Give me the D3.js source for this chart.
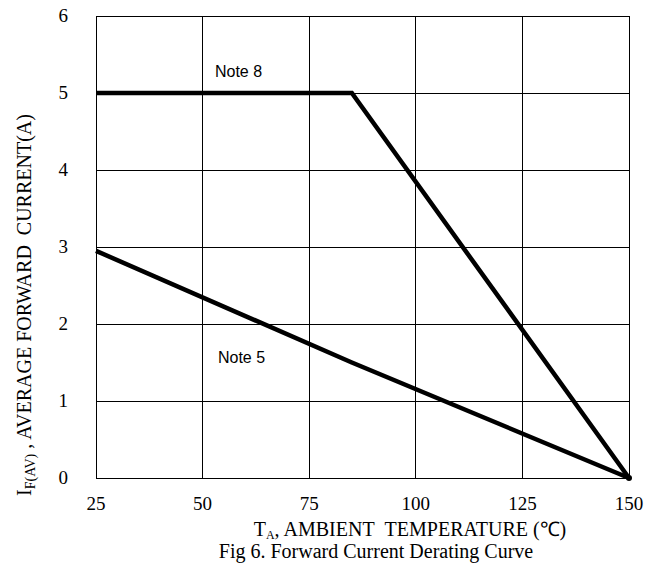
<!DOCTYPE html>
<html>
<head>
<meta charset="utf-8">
<script src="https://cdn.jsdelivr.net/npm/d3@7"></script>
<style>
  html, body { margin: 0; padding: 0; background: #fff; }
  svg { display: block; }
  .tick-label { font-family: "Liberation Serif", "Times New Roman", serif; font-size: 19px; fill: #000; }
  .axis-title { font-family: "Liberation Serif", "Times New Roman", serif; font-size: 20px; fill: #000; }
  .note { font-family: "Liberation Sans", Arial, sans-serif; font-size: 16px; fill: #000; }
</style>
</head>
<body>
<div id="chart"></div>
<script>
// data
const xTicks = [25, 50, 75, 100, 125, 150];
const yTicks = [0, 1, 2, 3, 4, 5, 6];
const note8Temp = [25, 85, 150];
const note8Current = [5, 5, 0];
const note5Temp = [25, 85, 150];
const note5Current = [2.95, 1.5, 0];
const notes = [
  {label: 'Note 8', temp: 52.9, current: 5.21},
  {label: 'Note 5', temp: 53.6, current: 1.49}
];

const width = 662;
const height = 564;

// scales
const x = d3.scaleLinear().domain([25, 150]).range([96, 629]);
const y = d3.scaleLinear().domain([0, 6]).range([478, 16]);

const svg = d3.select('#chart')
    .append('svg')
    .attr('width', width)
    .attr('height', height)
    .attr('viewBox', [0, 0, width, height]);

// grid
const grid = svg.append('g')
    .attr('stroke', '#000')
    .attr('stroke-width', 1)
    .attr('shape-rendering', 'crispEdges');

grid.selectAll('line.v')
    .data(xTicks)
    .enter()
    .append('line')
    .attr('class', 'v')
    .attr('x1', d => x(d)).attr('x2', d => x(d))
    .attr('y1', y(0)).attr('y2', y(6));

grid.selectAll('line.h')
    .data(yTicks)
    .enter()
    .append('line')
    .attr('class', 'h')
    .attr('x1', x(25)).attr('x2', x(150))
    .attr('y1', d => y(d)).attr('y2', d => y(d));

// tick labels
svg.append('g').selectAll('text')
    .data(xTicks)
    .enter()
    .append('text')
    .attr('class', 'tick-label')
    .attr('x', d => x(d))
    .attr('y', 510)
    .attr('text-anchor', 'middle')
    .text(d => d);

svg.append('g').selectAll('text')
    .data(yTicks)
    .enter()
    .append('text')
    .attr('class', 'tick-label')
    .attr('x', 68)
    .attr('y', d => y(d))
    .attr('dy', '0.34em')
    .attr('text-anchor', 'end')
    .text(d => d);

// curves
const line = d3.line()
    .x(d => x(d[0]))
    .y(d => y(d[1]));

const series = [
  d3.zip(note8Temp, note8Current),
  d3.zip(note5Temp, note5Current)
];

svg.append('g').selectAll('path')
    .data(series)
    .enter()
    .append('path')
    .attr('d', line)
    .attr('fill', 'none')
    .attr('stroke', '#000')
    .attr('stroke-width', 4.5)
    .attr('stroke-linejoin', 'miter');

svg.append('circle')
    .attr('cx', x(150))
    .attr('cy', y(0))
    .attr('r', 3)
    .attr('fill', '#000');

// notes
svg.append('g').selectAll('text')
    .data(notes)
    .enter()
    .append('text')
    .attr('class', 'note')
    .attr('x', d => x(d.temp))
    .attr('y', d => y(d.current))
    .text(d => d.label);

// axis titles
const xt = svg.append('text')
    .attr('class', 'axis-title')
    .attr('x', 410)
    .attr('y', 536)
    .attr('text-anchor', 'middle');
xt.append('tspan').text('T');
xt.append('tspan').attr('font-size', '12px').attr('dy', 2.5).text('A');
xt.append('tspan').attr('dy', -2.5).text(', AMBIENT\u00a0\u00a0TEMPERATURE (\u2103)');

svg.append('text')
    .attr('class', 'axis-title')
    .attr('x', 376)
    .attr('y', 558)
    .attr('text-anchor', 'middle')
    .text('Fig 6. Forward Current Derating Curve');

const yt = svg.append('text')
    .attr('class', 'axis-title')
    .attr('font-size', '21px')
    .attr('transform', 'translate(31,305) rotate(-90)')
    .attr('text-anchor', 'middle');
yt.append('tspan').text('I');
yt.append('tspan').attr('font-size', '14px').attr('dy', 4).text('F(AV)');
yt.append('tspan').attr('dy', -4).text(' , AVERAGE FORWARD\u00a0\u00a0CURRENT(A)');
</script>
</body>
</html>
